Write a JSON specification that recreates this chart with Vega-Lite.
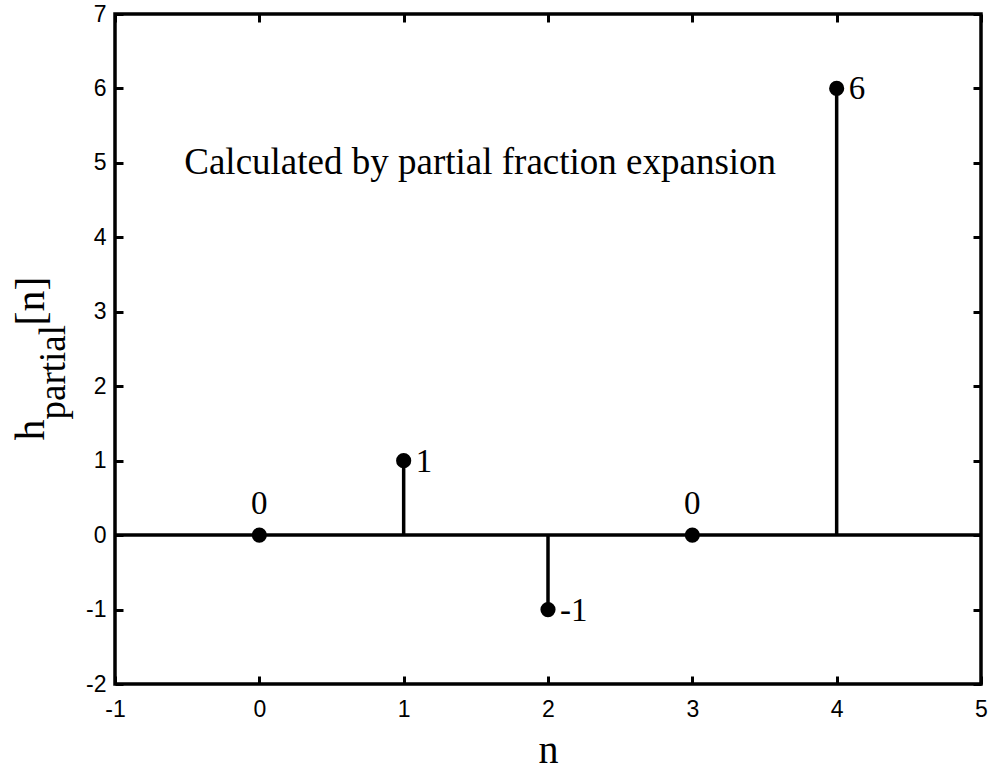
{
  "$schema": "https://vega.github.io/schema/vega-lite/v6.json",
  "width": 866,
  "height": 670,
  "autosize": "none",
  "padding": {"left": 115, "top": 14, "right": 9, "bottom": 87},
  "background": "white",
  "datasets": {
    "stems": [
      {"n": 0, "h": 0},
      {"n": 1, "h": 1},
      {"n": 2, "h": -1},
      {"n": 3, "h": 0},
      {"n": 4, "h": 6}
    ],
    "note": [
      {"n": 1.53, "h": 5, "text": "Calculated by partial fraction expansion"}
    ]
  },
  "layer": [
    {
      "data": {"name": "stems"},
      "mark": {"type": "rule", "strokeWidth": 3.5, "color": "black"},
      "encoding": {
        "x": {
          "field": "n", "type": "quantitative",
          "scale": {"domain": [-1, 5], "nice": false, "zero": false},
          "axis": {
            "orient": "bottom", "values": [-1, 0, 1, 2, 3, 4, 5],
            "labelExpr": "'' + datum.value",
            "labelPadding": 22, "labelFlush": false, "labelOverlap": false,
            "title": "n", "titleFontSize": 40, "titleBaseline": "alphabetic", "titleY": 78
          }
        },
        "y": {
          "field": "h", "type": "quantitative",
          "scale": {"domain": [-2, 7], "nice": false, "zero": false},
          "axis": {
            "orient": "left", "values": [-2, -1, 0, 1, 2, 3, 4, 5, 6, 7],
            "labelExpr": "'' + datum.value",
            "labelPadding": 17, "labelFlush": false, "labelOverlap": false,
            "title": "h", "titleFontSize": 42, "titleAngle": 270,
            "titleAlign": "left", "titleBaseline": "alphabetic",
            "titleX": -72, "titleY": 426
          }
        },
        "y2": {"datum": 0}
      }
    },
    {
      "data": {"name": "stems"},
      "mark": {"type": "point", "filled": true, "size": 230, "color": "black", "opacity": 1},
      "encoding": {
        "x": {
          "field": "n", "type": "quantitative",
          "scale": {"domain": [-1, 5], "nice": false, "zero": false},
          "axis": {
            "orient": "top", "values": [-1, 0, 1, 2, 3, 4, 5], "labels": false,
            "title": "[n]", "titleFontSize": 42, "titleAngle": 270,
            "titleAlign": "left", "titleBaseline": "alphabetic",
            "titleX": -72, "titleY": 311
          }
        },
        "y": {
          "field": "h", "type": "quantitative",
          "scale": {"domain": [-2, 7], "nice": false, "zero": false},
          "axis": {
            "orient": "right", "values": [-2, -1, 0, 1, 2, 3, 4, 5, 6, 7], "labels": false,
            "title": "partial", "titleFontSize": 37, "titleAngle": 270,
            "titleAlign": "left", "titleBaseline": "alphabetic",
            "titleX": -917, "titleY": 405
          }
        }
      }
    },
    {
      "data": {"values": [{"h": 0}]},
      "mark": {"type": "rule", "strokeWidth": 3.5, "color": "black"},
      "encoding": {
        "y": {"field": "h", "type": "quantitative", "axis": null}
      }
    },
    {
      "data": {"name": "stems"},
      "transform": [{"filter": "datum.h != 0"}],
      "mark": {"type": "text", "font": "Liberation Serif", "fontSize": 33, "color": "black", "align": "left", "baseline": "alphabetic", "dx": 12, "dy": 11},
      "encoding": {
        "x": {"field": "n", "type": "quantitative", "axis": null},
        "y": {"field": "h", "type": "quantitative", "axis": null},
        "text": {"field": "h", "type": "nominal"}
      }
    },
    {
      "data": {"name": "stems"},
      "transform": [{"filter": "datum.h == 0"}],
      "mark": {"type": "text", "font": "Liberation Serif", "fontSize": 33, "color": "black", "align": "center", "baseline": "alphabetic", "dy": -21},
      "encoding": {
        "x": {"field": "n", "type": "quantitative", "axis": null},
        "y": {"field": "h", "type": "quantitative", "axis": null},
        "text": {"field": "h", "type": "nominal"}
      }
    },
    {
      "data": {"name": "note"},
      "mark": {"type": "text", "font": "Liberation Serif", "fontSize": 37, "color": "black", "align": "center", "baseline": "middle"},
      "encoding": {
        "x": {"field": "n", "type": "quantitative", "axis": null},
        "y": {"field": "h", "type": "quantitative", "axis": null},
        "text": {"field": "text", "type": "nominal"}
      }
    }
  ],
  "resolve": {"axis": {"x": "independent", "y": "independent"}},
  "config": {
    "view": {"stroke": "black", "strokeWidth": 3.5},
    "axis": {
      "grid": false,
      "domain": false,
      "ticks": true,
      "tickSize": -8,
      "tickWidth": 3,
      "tickColor": "black",
      "labelFont": "Liberation Sans",
      "labelFontSize": 23,
      "labelColor": "black",
      "titleFont": "Liberation Serif",
      "titleColor": "black",
      "titleFontWeight": "normal"
    }
  }
}
